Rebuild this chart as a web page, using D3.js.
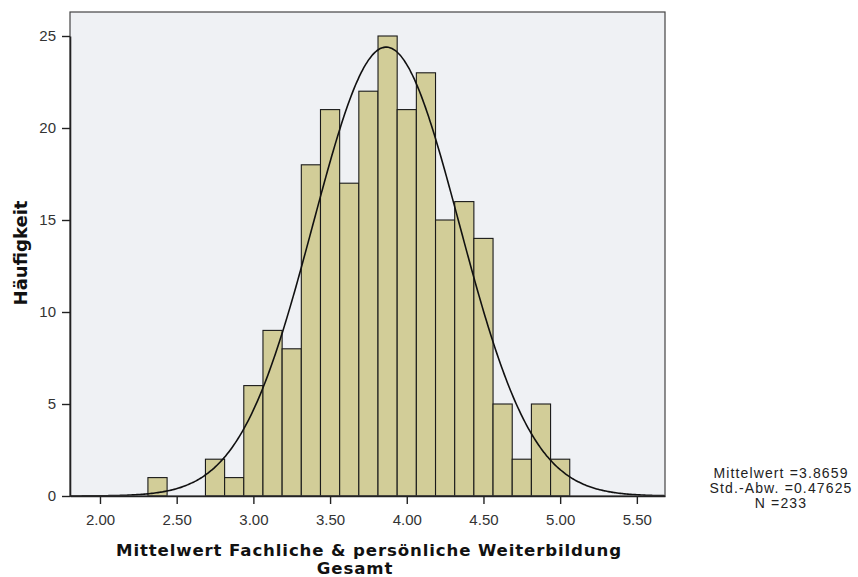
<!DOCTYPE html>
<html>
<head>
<meta charset="utf-8">
<script src="https://cdn.jsdelivr.net/npm/d3@7"></script>
<style>
  body { margin: 0; background: #fff; }
  svg { display: block; font-family: "Liberation Sans", Arial, sans-serif; }
</style>
</head>
<body>
<svg id="chart" width="858" height="577"></svg>
<script>
// Histogram bins (centres, width 0.125) and their counts
const binCenters = [2.375, 2.5, 2.625, 2.75, 2.875, 3.0, 3.125, 3.25, 3.375, 3.5, 3.625,
                    3.75, 3.875, 4.0, 4.125, 4.25, 4.375, 4.5, 4.625, 4.75, 4.875, 5.0];
const counts     = [1, 0, 0, 2, 1, 6, 9, 8, 18, 21, 17,
                    22, 25, 21, 23, 15, 16, 14, 5, 2, 5, 2];
const binWidth = 0.125;

// Tick values
const xTicks = [2.0, 2.5, 3.0, 3.5, 4.0, 4.5, 5.0, 5.5];
const yTicks = [0, 5, 10, 15, 20, 25];

// Summary statistics for the fitted normal curve
const mean = 3.8659;
const sd = 0.47625;
const n = 233;
const statLines = ["Mittelwert =3.8659", "Std.-Abw. =0.47625", "N =233"];

const xLabelLines = ["Mittelwert Fachliche & persönliche Weiterbildung", "Gesamt"];
const yLabel = "Häufigkeit";

const svg = d3.select("#chart");
const plot = { left: 70, top: 12, right: 665, bottom: 496 };

const x = d3.scaleLinear().domain([1.8045, 5.6835]).range([plot.left, plot.right]);
const y = d3.scaleLinear().domain([0, 25]).range([plot.bottom, plot.bottom - 25 * 18.4]);

// Grow or shrink a text node's font so it spans the given width
function fitWidth(sel, width) {
  const fs = parseFloat(sel.attr("font-size"));
  const w = sel.node().getComputedTextLength();
  if (w > 0) sel.attr("font-size", (fs * width / w).toFixed(2));
  return sel;
}
// Letter spacing that makes a text node span the given width
function spacingFor(sel, width) {
  const w = sel.node().getComputedTextLength();
  return (width - w) / sel.text().length;
}

// Plot area background
svg.append("rect")
  .attr("x", plot.left).attr("y", plot.top)
  .attr("width", plot.right - plot.left).attr("height", plot.bottom - plot.top)
  .attr("fill", "#eff1f4");

// Bars
svg.append("g").selectAll("rect")
  .data(binCenters.map((c, i) => ({ c, v: counts[i] })).filter(d => d.v > 0))
  .join("rect")
  .attr("x", d => x(d.c - binWidth / 2))
  .attr("y", d => y(d.v))
  .attr("width", d => x(d.c + binWidth / 2) - x(d.c - binWidth / 2))
  .attr("height", d => y(0) - y(d.v))
  .attr("fill", "#d2cd98")
  .attr("stroke", "#1a1a1a")
  .attr("stroke-width", 1.1);

// Fitted normal curve scaled to the histogram counts
const [x0, x1] = x.domain();
const curvePts = d3.range(0, 401).map(i => {
  const xv = x0 + (x1 - x0) * i / 400;
  const z = (xv - mean) / sd;
  return [xv, n * binWidth * Math.exp(-0.5 * z * z) / (sd * Math.sqrt(2 * Math.PI))];
});
svg.append("path")
  .datum(curvePts)
  .attr("fill", "none")
  .attr("stroke", "#111")
  .attr("stroke-width", 1.6)
  .attr("d", d3.line().x(d => x(d[0])).y(d => y(d[1])).curve(d3.curveBasis));

// Frame
svg.append("rect")
  .attr("x", plot.left).attr("y", plot.top)
  .attr("width", plot.right - plot.left).attr("height", plot.bottom - plot.top)
  .attr("fill", "none")
  .attr("stroke", "#444")
  .attr("stroke-width", 1.2);

// Axes
const xAxis = svg.append("g")
  .attr("transform", `translate(0,${plot.bottom})`)
  .call(d3.axisBottom(x).tickValues(xTicks).tickFormat(d3.format(".2f")).tickSize(8).tickSizeOuter(0));
const yAxis = svg.append("g")
  .attr("transform", `translate(${plot.left},0)`)
  .call(d3.axisLeft(y).tickValues(yTicks).tickSize(8).tickSizeOuter(0).tickPadding(6));

[xAxis, yAxis].forEach(g => {
  g.select(".domain").attr("stroke", "#222").attr("stroke-width", 1.6);
  g.selectAll(".tick line").attr("stroke", "#222").attr("stroke-width", 1.4);
  g.selectAll(".tick text").attr("fill", "#333").attr("font-size", 15)
    .attr("font-family", "'Liberation Sans', Arial, sans-serif");
});
xAxis.selectAll(".tick text").attr("dy", "0.71em").attr("y", 18);

// Axis titles
const titleFont = "'DejaVu Sans', Verdana, sans-serif";
fitWidth(svg.append("text")
  .attr("transform", `translate(27,253) rotate(-90)`)
  .attr("text-anchor", "middle")
  .attr("font-family", titleFont)
  .attr("font-size", 17).attr("font-weight", "bold").attr("fill", "#111")
  .text(yLabel), 105);

const xTitle = svg.append("g")
  .attr("font-family", titleFont)
  .attr("font-size", 16.6).attr("font-weight", "bold").attr("fill", "#111")
  .attr("text-anchor", "middle");
const xt1 = xTitle.append("text").attr("x", 369).attr("y", 556).text(xLabelLines[0]);
const xt2 = xTitle.append("text").attr("x", 355).attr("y", 574).text(xLabelLines[1]);
xTitle.attr("letter-spacing", spacingFor(xt1, 506).toFixed(3));

// Summary statistics block
const stats = svg.append("g").selectAll("text")
  .data(statLines)
  .join("text")
  .attr("x", 781)
  .attr("y", (d, i) => 478 + i * 15)
  .attr("text-anchor", "middle")
  .attr("font-size", 14).attr("fill", "#222")
  .text(d => d);
stats.attr("letter-spacing", spacingFor(d3.select(stats.nodes()[1]), 143).toFixed(3));
</script>
</body>
</html>
